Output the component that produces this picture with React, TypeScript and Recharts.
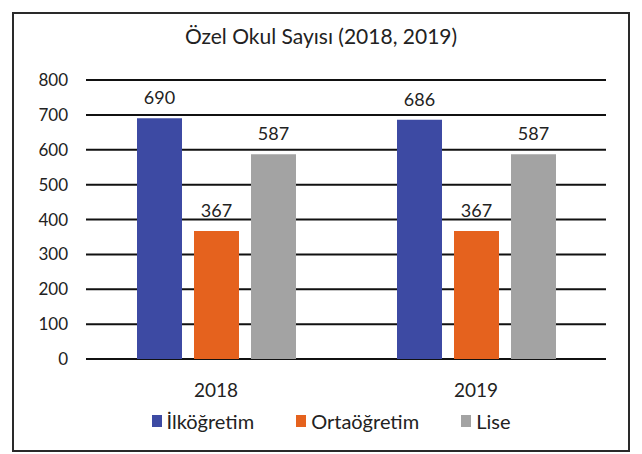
import { BarChart, Bar, XAxis, YAxis, CartesianGrid, Legend, LabelList } from "recharts";

const years = ["2018", "2019"];
const ilkogretim = [690, 686];
const ortaogretim = [367, 367];
const lise = [587, 587];
const yTicks = [0, 100, 200, 300, 400, 500, 600, 700, 800];

const series = [
  { key: "ilk", name: "İlköğretim", color: "#3d4aa3" },
  { key: "orta", name: "Ortaöğretim", color: "#e5621e" },
  { key: "lise", name: "Lise", color: "#a3a3a3" },
];

const data = years.map((year, i) => ({
  year,
  ilk: ilkogretim[i],
  orta: ortaogretim[i],
  lise: lise[i],
}));

const FONT = "Lato, 'Open Sans', sans-serif";
const TEXT = "#222";

function LegendBox() {
  return (
    <div
      style={{
        display: "flex",
        justifyContent: "center",
        alignItems: "center",
        paddingTop: 5,
        paddingLeft: 42,
        fontSize: 20,
        color: TEXT,
        fontFamily: FONT,
      }}
    >
      {series.map((s, i) => (
        <div
          key={s.key}
          style={{ display: "flex", alignItems: "center", marginLeft: i === 0 ? 0 : 42 }}
        >
          <span style={{ width: 10, height: 12, background: s.color, marginRight: 5 }} />
          <span>{s.name}</span>
        </div>
      ))}
    </div>
  );
}

export default function App() {
  return (
    <div
      style={{
        position: "absolute",
        left: 12,
        top: 12,
        width: 614,
        height: 436,
        border: "2px solid #2a2a2a",
        background: "#fff",
        fontFamily: FONT,
      }}
    >
      <div
        style={{
          position: "absolute",
          top: 9,
          left: 0,
          width: "100%",
          textAlign: "center",
          fontSize: 21,
          color: TEXT,
        }}
      >
        Özel Okul Sayısı (2018, 2019)
      </div>
      <BarChart
        width={614}
        height={436}
        data={data}
        margin={{ top: 66, right: 22, left: 0, bottom: 0 }}
        barGap={12}
        barSize={45}
      >
        <CartesianGrid vertical={false} stroke="#111" strokeWidth={2} />
        <XAxis
          dataKey="year"
          axisLine={false}
          tickLine={false}
          height={45}
          tickMargin={19}
          tick={{ fill: TEXT, fontSize: 19, fontFamily: FONT }}
        />
        <YAxis
          domain={[0, 800]}
          ticks={yTicks}
          width={72}
          axisLine={false}
          tickLine={false}
          tickMargin={12}
          tick={{ fill: TEXT, fontSize: 17, fontFamily: FONT }}
        />
        <Legend verticalAlign="bottom" height={46} content={<LegendBox />} />
        {series.map((s) => (
          <Bar key={s.key} dataKey={s.key} name={s.name} fill={s.color} isAnimationActive={false}>
            <LabelList dataKey={s.key} position="top" offset={14} fill={TEXT} fontSize={18} fontFamily={FONT} />
          </Bar>
        ))}
      </BarChart>
    </div>
  );
}
